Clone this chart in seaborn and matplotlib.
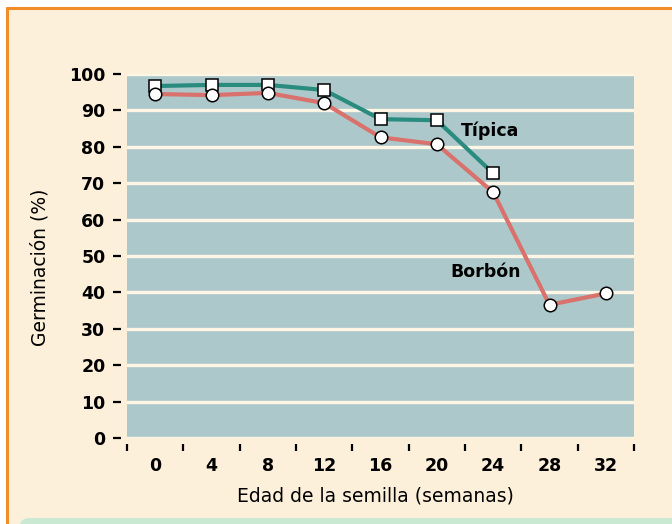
import matplotlib
matplotlib.use('Agg')
import matplotlib.pyplot as plt
from matplotlib.lines import Line2D
from matplotlib.patches import Rectangle, FancyBboxPatch
from matplotlib.ticker import MultipleLocator, FixedLocator
import seaborn as sns
import pandas as pd

# --- Dati ---
semanas_tipica = [0, 4, 8, 12, 16, 20, 24]
germ_tipica = [96.7, 97.0, 97.0, 95.6, 87.6, 87.3, 72.7]
semanas_borbon = [0, 4, 8, 12, 16, 20, 24, 28, 32]
germ_borbon = [94.5, 94.2, 94.8, 92.0, 82.6, 80.7, 67.5, 36.6, 39.7]
etichette_x = [0, 4, 8, 12, 16, 20, 24, 28, 32]
bordi_x = [-2, 2, 6, 10, 14, 18, 22, 26, 30, 34]

df_t = pd.DataFrame({'semanas': semanas_tipica, 'germ': germ_tipica})
df_b = pd.DataFrame({'semanas': semanas_borbon, 'germ': germ_borbon})

# --- Colori ---
crema = '#FDF0DA'
fondo = '#ADC8CB'
verde_acqua = '#2A8B7F'
rosso = '#D9716C'
arancio = '#F28C28'

sns.set_style('white')
plt.rcParams['font.family'] = ['DejaVu Sans']
plt.rcParams.update({
    'text.color': 'black',
    'axes.labelcolor': 'black',
    'xtick.color': 'black',
    'ytick.color': 'black',
})

W, H = 672, 524
fig = plt.figure(figsize=(W / 100, H / 100), dpi=100, facecolor='white')

# sfondo crema con cornice arancio
fig.patches.append(Rectangle((7 / W, 0), 1, 1 - 8 / H, transform=fig.transFigure,
                             facecolor=crema, edgecolor='none', zorder=-10))
fig.add_artist(Line2D([7 / W, 7 / W], [0, 1 - 8 / H], color=arancio, lw=2.2,
                      transform=fig.transFigure))
fig.add_artist(Line2D([7 / W, 1], [1 - 8 / H, 1 - 8 / H], color=arancio, lw=2.2,
                      transform=fig.transFigure))
fig.patches.append(FancyBboxPatch((20 / W, -0.05), 1, 0.05 + (H - 518) / H,
                                  boxstyle='round,pad=0,rounding_size=0.015',
                                  transform=fig.transFigure, facecolor='#C9E9D3',
                                  edgecolor='none', zorder=-9))

ax = fig.add_axes([127 / W, 1 - 438 / H, (634 - 127) / W, (438 - 74) / H])
ax.set_facecolor(fondo)

sns.lineplot(data=df_t, x='semanas', y='germ', color=verde_acqua, lw=3,
             marker='s', markersize=8, markerfacecolor='white',
             markeredgecolor='black', markeredgewidth=1.1, ax=ax)
sns.lineplot(data=df_b, x='semanas', y='germ', color=rosso, lw=3,
             marker='o', markersize=9, markerfacecolor='white',
             markeredgecolor='black', markeredgewidth=1.1, ax=ax)

ax.set_xlim(bordi_x[0], bordi_x[-1])
ax.set_ylim(0, 100)

# griglia orizzontale
ax.yaxis.set_major_locator(MultipleLocator(10))
ax.yaxis.grid(True, color='#FFF6E6', lw=2.4)
ax.xaxis.grid(False)
ax.set_axisbelow(True)
glines = ax.get_ygridlines()
glines[0].set_visible(False)
glines[-1].set_visible(False)

for s in ax.spines.values():
    s.set_visible(False)
ax.spines['left'].set_position(('outward', 4.5))
ax.spines['bottom'].set_position(('outward', 4.5))

ax.tick_params(axis='y', which='major', left=True, direction='out', length=6,
               width=1.6, color='black', pad=5, labelsize=12.5)
ax.xaxis.set_major_locator(FixedLocator(bordi_x))
ax.xaxis.set_minor_locator(FixedLocator(etichette_x))
ax.tick_params(axis='x', which='major', bottom=True, direction='out', length=5,
               width=1.6, color='black', labelbottom=False)
ax.tick_params(axis='x', which='minor', bottom=True, length=0, pad=9,
               labelsize=12.5)
ax.set_xticklabels([str(v) for v in etichette_x], minor=True)
for lab in ax.get_yticklabels() + ax.get_xticklabels(minor=True):
    lab.set_fontweight('bold')

ax.set_xlabel('Edad de la semilla (semanas)', fontsize=13.5, fontweight='medium')
ax.set_ylabel('Germinación (%)', fontsize=13.5, fontweight='medium')
ax.xaxis.set_label_coords(0.49, -0.133)
ax.yaxis.set_label_coords(-0.152, 0.47)

ax.text(23.8, 84.3, 'Típica', ha='center', va='center', fontsize=12.5,
        fontweight='bold')
ax.text(23.5, 45.5, 'Borbón', ha='center', va='center', fontsize=12.5,
        fontweight='bold')

fig.savefig('out.png', dpi=100, facecolor=fig.get_facecolor())
